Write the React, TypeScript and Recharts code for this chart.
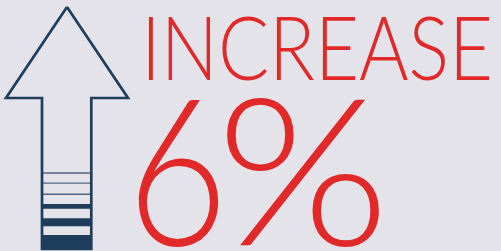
import { ComposedChart, Line, XAxis, YAxis, ReferenceArea } from "recharts"

// arrow outline, drawn clockwise from the tip (chart units, y grows downward)
const arrowX = [67, 128, 91.3, 91.3, 42, 42, 6, 67]
const arrowY = [7, 98, 98, 249, 249, 98, 98, 7]

// stripes inside the shaft, thin at the top and thicker towards the bottom
const stripeTop = [172.3, 182.6, 193.6, 204, 218.3, 235]
const stripeBottom = [173.7, 183.8, 195, 208.7, 226.3, 249]

const headline = "INCREASE"
const figure = "6%"

const NAVY = "#1f3e5e"
const RED = "#e2292a"
const BG = "#e4e3e9"

const arrowData = arrowX.map((x, i) => ({ x, y: arrowY[i] }))

export default function App() {
  return (
    <div style={{ position: "relative", width: 501, height: 251, background: BG, overflow: "hidden" }}>
      <style>{`body{margin:0}`}</style>
      <ComposedChart width={501} height={251} data={arrowData} margin={{ top: 0, right: 0, bottom: 0, left: 0 }}>
        <XAxis type="number" dataKey="x" domain={[0, 501]} hide />
        <YAxis type="number" domain={[0, 251]} reversed hide />
        {stripeTop.map((t, i) => (
          <ReferenceArea
            key={i}
            x1={arrowX[4]}
            x2={arrowX[2]}
            y1={t}
            y2={stripeBottom[i]}
            fill={NAVY}
            fillOpacity={i < 3 ? 0.75 : 1}
            stroke="none"
            ifOverflow="visible"
          />
        ))}
        <Line
          type="linear"
          dataKey="y"
          stroke={NAVY}
          strokeWidth={2.7}
          strokeLinejoin="miter"
          dot={false}
          activeDot={false}
          isAnimationActive={false}
        />
      </ComposedChart>
      <svg width={501} height={251} style={{ position: "absolute", left: 0, top: 0 }}>
        <text
          x={141}
          y={80}
          fontFamily="Lato"
          fontWeight={300}
          fontSize={88}
          fill={RED}
          textLength={352}
          lengthAdjust="spacingAndGlyphs"
        >
          {headline}
        </text>
        <text
          x={127}
          y={245}
          fontFamily="Lato"
          fontWeight={300}
          fontSize={205}
          fill={RED}
          textLength={101}
          lengthAdjust="spacingAndGlyphs"
        >
          {figure.slice(0, 1)}
        </text>
        <text
          x={216}
          y={245}
          fontFamily="Lato"
          fontWeight={300}
          fontSize={205}
          fill={RED}
          textLength={174}
          lengthAdjust="spacingAndGlyphs"
        >
          {figure.slice(1)}
        </text>
      </svg>
    </div>
  )
}
